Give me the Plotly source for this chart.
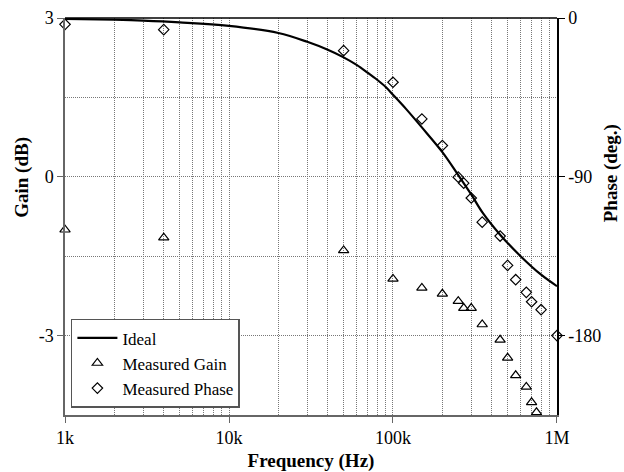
import plotly.graph_objects as go

# ---- data ----
ideal_freq = [1000, 2000, 3000, 5000, 10000, 20000, 30000, 40000, 50000, 60000,
              70000, 80000, 90000, 100000, 120000, 150000, 200000, 250000,
              300000, 350000, 450000, 600000, 800000, 1000000]
ideal_phase = [-0.5, -1.0, -1.5, -2.5, -4.5, -8.5, -13.5, -18.0, -22.3, -26.6,
               -31.0, -35.0, -39.0, -43.5, -51.5, -62.0, -76.0, -89.0,
               -100.0, -110.0, -122.8, -135.0, -145.5, -152.0]

gain_freq = [1000, 4000, 50000, 100000, 150000, 200000, 250000, 270000, 300000,
             350000, 450000, 500000, 560000, 650000, 700000, 750000]
gain_db = [-1.0, -1.15, -1.39, -1.93, -2.10, -2.21, -2.35, -2.48, -2.48,
           -2.79, -3.08, -3.42, -3.75, -3.97, -4.26, -4.45]

phase_freq = [1000, 4000, 50000, 100000, 150000, 200000, 250000, 270000, 300000,
              350000, 450000, 500000, 560000, 650000, 700000, 800000, 1000000]
phase_deg = [-3.6, -6.6, -18.5, -36.4, -57.2, -72.3, -90.2, -93.6, -102.0,
             -115.7, -123.6, -140.2, -148.3, -155.5, -160.8, -165.3, -180.0]

x_tickvals = [1e3, 1e4, 1e5, 1e6]
x_ticktext = ["1k", "10k", "100k", "1M"]
x_minor = [m * 10 ** e for e in (3, 4, 5) for m in range(2, 10)]
gain_ticks = [3, 0, -3]
gain_ticktext = ["3", "0", "-3"]
phase_ticks = [0, -90, -180]
phase_ticktext = ["0", "-90", "-180"]

FONT = "Liberation Serif"
GRID = "#777777"
DOT = "1px,1px"
TITLE_FONT = dict(family=FONT, size=19, color="black")

fig = go.Figure()
fig.add_trace(go.Scatter(x=ideal_freq, y=ideal_phase, yaxis="y2", mode="lines",
                         name="Ideal", line=dict(color="black", width=2.2, shape="spline"),
                         cliponaxis=False))
fig.add_trace(go.Scatter(x=gain_freq, y=gain_db, mode="markers", name="Measured Gain",
                         marker=dict(symbol="triangle-up-open", size=9, color="black",
                                     line=dict(width=1.2)),
                         cliponaxis=False))
fig.add_trace(go.Scatter(x=phase_freq, y=phase_deg, yaxis="y2", mode="markers",
                         name="Measured Phase",
                         marker=dict(symbol="diamond-open", size=8, color="black",
                                     line=dict(width=1.2)),
                         cliponaxis=False))

fig.update_layout(
    width=624, height=472,
    margin=dict(l=65, r=67, t=18, b=57),
    paper_bgcolor="white", plot_bgcolor="white",
    font=dict(family=FONT, size=18, color="black"),
    showlegend=True,
    legend=dict(x=0.012, y=0.018, xanchor="left", yanchor="bottom",
                bgcolor="white", bordercolor="#555", borderwidth=1.5,
                font=dict(size=17), tracegroupgap=0, itemwidth=40),
    xaxis=dict(type="log", range=[2.9999, 6.0001], tickvals=x_tickvals, ticktext=x_ticktext,
               automargin=False,
               showline=True, linecolor="#666", linewidth=1.5,
               ticks="outside", ticklen=6, tickcolor="#666",
               showgrid=True, gridcolor=GRID, griddash=DOT, gridwidth=1,
               minor=dict(tickmode="array", tickvals=x_minor, showgrid=True,
                          gridcolor=GRID, griddash=DOT, gridwidth=1, ticks=""),
               zeroline=False,
               title=dict(text="<b>Frequency (Hz)</b>", standoff=6, font=TITLE_FONT)),
    yaxis=dict(range=[-4.5, 3], tickvals=gain_ticks, ticktext=gain_ticktext,
               automargin=False,
               showline=True, linecolor="#666", linewidth=1.5,
               ticks="outside", ticklen=6, tickcolor="#666",
               showgrid=True, gridcolor=GRID, griddash=DOT, gridwidth=1,
               minor=dict(dtick=1.5, tick0=0, showgrid=True, gridcolor=GRID,
                          griddash=DOT, gridwidth=1, ticks=""),
               zeroline=False),
    yaxis2=dict(range=[-225, 0], tickvals=phase_ticks, ticktext=phase_ticktext,
                overlaying="y", side="right", automargin=False,
                showline=True, linecolor="black", linewidth=1.5,
                ticks="outside", ticklen=6, tickcolor="black",
                showgrid=False, zeroline=False),
    annotations=[
        dict(text="<b>Gain (dB)</b>", xref="paper", yref="y", x=-0.0874, y=0,
             xanchor="center", yanchor="middle", textangle=-90, showarrow=False,
             font=TITLE_FONT),
        dict(text="<b>Phase (deg.)</b>", xref="paper", yref="y2", x=1.1098, y=-88,
             xanchor="center", yanchor="middle", textangle=-90, showarrow=False,
             font=TITLE_FONT),
    ],
    shapes=[dict(type="line", xref="paper", yref="paper", x0=0, x1=1, y0=1, y1=1,
                 line=dict(color="black", width=1.5))],
)

fig.write_html("out.html")
